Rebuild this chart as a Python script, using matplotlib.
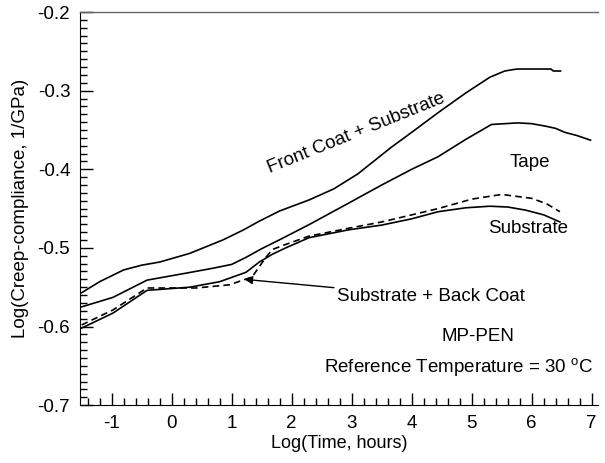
import numpy as np
import matplotlib.pyplot as plt
from matplotlib.ticker import MultipleLocator

plt.rcParams['font.family'] = ['Liberation Sans', 'DejaVu Sans']

# Front coat + substrate
front_t = [-1.5, -1.2, -0.8, -0.5, -0.2, 0.3, 0.85, 1.2, 1.46, 1.8, 2.29, 2.7, 3.1, 3.66, 4.0, 4.44, 4.9, 5.3, 5.55, 5.75, 6.0, 6.32, 6.36, 6.48]
front_y = [-0.557, -0.543, -0.528, -0.522, -0.518, -0.507, -0.490, -0.477, -0.466, -0.453, -0.439, -0.425, -0.406, -0.372, -0.353, -0.328, -0.303, -0.283, -0.275, -0.2725, -0.2725, -0.2725, -0.275, -0.275]

# Tape
tape_t = [-1.5, -0.98, -0.41, 0.25, 0.68, 1.0, 1.24, 1.5, 1.79, 2.3, 2.95, 3.5, 4.0, 4.44, 4.9, 5.33, 5.77, 6.0, 6.22, 6.4, 6.55, 6.75, 6.98]
tape_y = [-0.575, -0.563, -0.541, -0.532, -0.526, -0.521, -0.512, -0.501, -0.490, -0.470, -0.443, -0.420, -0.400, -0.384, -0.362, -0.343, -0.341, -0.342, -0.345, -0.348, -0.353, -0.357, -0.363]

# Substrate
sub_t = [-1.5, -0.98, -0.41, 0.3, 0.8, 1.24, 1.46, 1.68, 1.9, 2.29, 2.95, 3.5, 4.0, 4.44, 4.9, 5.3, 5.6, 5.9, 6.2, 6.47]
sub_y = [-0.602, -0.583, -0.554, -0.550, -0.543, -0.531, -0.518, -0.508, -0.500, -0.487, -0.477, -0.471, -0.463, -0.454, -0.449, -0.447, -0.448, -0.452, -0.458, -0.467]

# Substrate + back coat
back_t = [-1.5, -0.98, -0.41, 0.41, 0.96, 1.34, 1.57, 1.68, 1.85, 2.29, 2.95, 3.5, 4.0, 4.44, 5.0, 5.5, 6.0, 6.25, 6.47]
back_y = [-0.598, -0.579, -0.551, -0.551, -0.547, -0.537, -0.512, -0.502, -0.497, -0.485, -0.475, -0.467, -0.458, -0.450, -0.438, -0.432, -0.437, -0.444, -0.454]

fs = 13.5

fig = plt.figure(figsize=(6.05, 4.63), dpi=100)
ax = fig.add_axes([0.132, 0.125, 0.856, 0.849])

lw = 1.2
ax.plot(front_t, front_y, color='black', lw=lw)
ax.plot(tape_t, tape_y, color='black', lw=lw)
ax.plot(sub_t, sub_y, color='black', lw=lw)
ax.plot(back_t, back_y, color='black', lw=lw, ls=(0, (4, 2.5)))

ax.set_xlim(-1.53, 7.1)
ax.set_ylim(-0.7, -0.2)
ax.xaxis.set_major_locator(MultipleLocator(1))
ax.xaxis.set_minor_locator(MultipleLocator(0.2))
ax.yaxis.set_major_locator(MultipleLocator(0.1))
ax.yaxis.set_minor_locator(MultipleLocator(0.01))
ax.xaxis.set_major_formatter(plt.FuncFormatter(lambda v, p: '%d' % round(v)))
ax.yaxis.set_major_formatter(plt.FuncFormatter(lambda v, p: '%.1f' % v))

ax.tick_params(which='both', direction='in', left=True, bottom=True,
               top=False, right=False, labelsize=fs, width=1, color='black')
ax.tick_params(which='major', length=9, pad=7)
ax.tick_params(which='minor', length=5)
ax.spines['right'].set_visible(False)
ax.spines['top'].set_color('#666666')
ax.spines['top'].set_linewidth(1.0)

ax.set_xlabel('Log(Time, hours)', fontsize=13, labelpad=2)
ax.set_ylabel('Log(Creep-compliance, 1/GPa)', fontsize=fs, labelpad=6)

ax.text(3.07, -0.354, 'Front Coat + Substrate', fontsize=fs, rotation=22,
        ha='center', va='center', rotation_mode='anchor')
ax.text(5.97, -0.392, 'Tape', fontsize=fs, ha='center', va='center')
ax.text(5.94, -0.475, 'Substrate', fontsize=fs, ha='center', va='center')
ax.annotate('Substrate + Back Coat', xy=(1.21, -0.540), xytext=(2.75, -0.562),
            fontsize=fs, ha='left', va='center',
            arrowprops=dict(arrowstyle='-|>', color='black', lw=1,
                            shrinkA=0, shrinkB=0, mutation_scale=12))
ax.text(5.1, -0.613, 'MP-PEN', fontsize=fs, ha='center', va='center')
ax.text(4.78, -0.652, r'Reference Temperature = 30 $^\mathregular{o}$C', fontsize=fs,
        ha='center', va='center')

fig.savefig('out.png', dpi=100)
